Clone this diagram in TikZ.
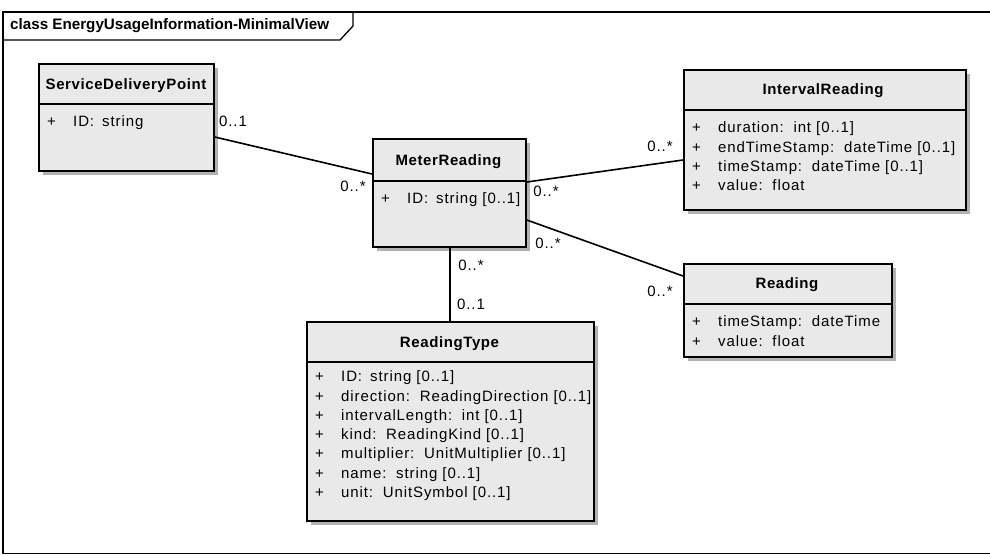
\documentclass[tikz,border=0pt]{standalone}
\usepackage{fontspec}
\setmainfont{Liberation Sans}
\newfontfamily\attrfont[LetterSpace=6]{Liberation Sans}
\newfontfamily\headfont[LetterSpace=4]{Liberation Sans}
\usetikzlibrary{calc,shadows}
\newcommand\colsp{\hspace{3pt}}
\begin{document}
\begin{tikzpicture}[x=1pt,y=-1pt,
  frameline/.style={draw=black, line width=1.3pt},
  classbox/.style={draw=black, line width=1.8pt, fill=gray!17, rectangle, inner sep=0pt, anchor=north west,
    drop shadow={shadow xshift=4pt, shadow yshift=-4pt, fill=gray!60, opacity=1}},
  divider/.style={draw=black, line width=1.4pt},
  head/.style={font=\headfont\bfseries\fontsize{15}{18}\selectfont, inner sep=0pt},
  attr/.style={font=\attrfont\fontsize{15}{19.3}\selectfont, inner sep=0pt, anchor=north west},
  mult/.style={font=\attrfont\fontsize{15}{17}\selectfont, inner sep=0pt},
  assoc/.style={draw=black, line width=1.6pt}
]
\useasboundingbox (0,0) rectangle (990,555);
\fill[white] (0,0) rectangle (990,555);

% frame
\draw[frameline] (992,12) -- (3,12) -- (3,553.5) -- (992,553.5);
\draw[frameline] (3,40) -- (340,40) -- (353,26) -- (353,12);
\node[font=\bfseries\fontsize{15.2}{18}\selectfont, inner sep=0pt, anchor=west] (title) at (10,26) {class EnergyUsageInformation-MinimalView};

% classes
\node[classbox, minimum width=175, minimum height=107] (sdp) at (38,63) {};
\node[classbox, minimum width=153, minimum height=108] (mr) at (372,138) {};
\node[classbox, minimum width=282, minimum height=140] (ir) at (683,69) {};
\node[classbox, minimum width=208, minimum height=93] (rd) at (683,263) {};
\node[classbox, minimum width=287, minimum height=199] (rt) at (306,321) {};

% dividers
\draw[divider] (sdp.west |- 0,104) -- (sdp.east |- 0,104);
\draw[divider] (mr.west |- 0,181) -- (mr.east |- 0,181);
\draw[divider] (ir.west |- 0,110) -- (ir.east |- 0,110);
\draw[divider] (rd.west |- 0,304) -- (rd.east |- 0,304);
\draw[divider] (rt.west |- 0,362) -- (rt.east |- 0,362);

% headers
\node[head] (sdph) at (126,86) {ServiceDeliveryPoint};
\node[head] (mrh) at (448.5,162) {MeterReading};
\node[head] (irh) at (823,91) {IntervalReading};
\node[head] (rdh) at (787,285) {Reading};
\node[head] (rth) at (449.5,344) {ReadingType};

% attributes
\node[attr] (sdpa) at (47,113) {\begin{tabular}{@{}p{26pt}@{}l@{}}
+ & ID:\colsp{} string\end{tabular}};
\node[attr] (mra) at (381,190) {\begin{tabular}{@{}p{26pt}@{}l@{}}
+ & ID:\colsp{} string [0..1]\end{tabular}};
\node[attr] (ira) at (692,119) {\begin{tabular}{@{}p{26pt}@{}l@{}}
+ & duration:\colsp{} int [0..1]\\
+ & endTimeStamp:\colsp{} dateTime [0..1]\\
+ & timeStamp:\colsp{} dateTime [0..1]\\
+ & value:\colsp{} float\end{tabular}};
\node[attr] (rda) at (692,313) {\begin{tabular}{@{}p{26pt}@{}l@{}}
+ & timeStamp:\colsp{} dateTime\\
+ & value:\colsp{} float\end{tabular}};
\node[attr] (rta) at (315,368) {\begin{tabular}{@{}p{26pt}@{}l@{}}
+ & ID:\colsp{} string [0..1]\\
+ & direction:\colsp{} ReadingDirection [0..1]\\
+ & intervalLength:\colsp{} int [0..1]\\
+ & kind:\colsp{} ReadingKind [0..1]\\
+ & multiplier:\colsp{} UnitMultiplier [0..1]\\
+ & name:\colsp{} string [0..1]\\
+ & unit:\colsp{} UnitSymbol [0..1]\end{tabular}};

% associations
\draw[assoc] (sdp.east |- 0,137) -- (mr.west |- 0,174);
\draw[assoc] (mr.east |- 0,182) -- (ir.west |- 0,160);
\draw[assoc] (mr.east |- 0,220) -- (rd.west |- 0,276);
\draw[assoc] (mr.south -| 450,0) -- (rt.north -| 450,0);

% multiplicities
\node[mult] (m1) at (233,121) {0..1};
\node[mult] (m2) at (353,186) {0..*};
\node[mult] (m3) at (546,191) {0..*};
\node[mult] (m4) at (660,146) {0..*};
\node[mult] (m5) at (548,243) {0..*};
\node[mult] (m6) at (660,291) {0..*};
\node[mult] (m7) at (471,265) {0..*};
\node[mult] (m8) at (471,304) {0..1};
\end{tikzpicture}
\end{document}
